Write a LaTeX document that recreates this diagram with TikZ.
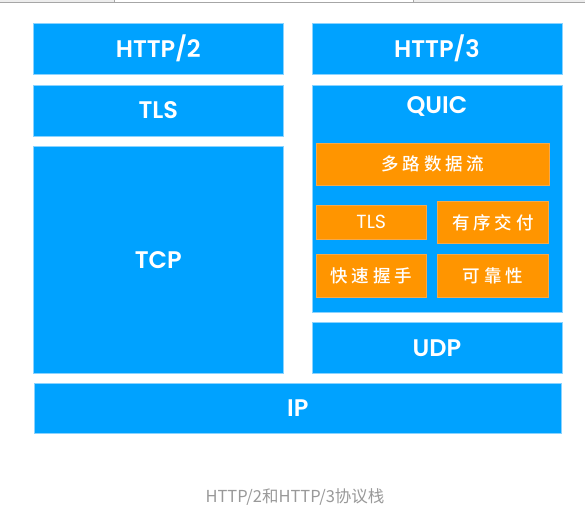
\documentclass[tikz,border=0pt]{standalone}
\usepackage{fontspec}
\setmainfont{Poppins}[BoldFont={Poppins SemiBold}]
\newfontfamily\cjk{Noto Sans CJK SC}[LetterSpace=22, BoldFont={Noto Sans CJK SC Medium}]
\newfontfamily\capfont{Noto Sans CJK SC}
\usetikzlibrary{positioning}
\definecolor{capa}{HTML}{00A2FF}
\definecolor{capaborde}{HTML}{8AD3FF}
\definecolor{func}{HTML}{FF9500}
\definecolor{funcborde}{HTML}{F5A84A}
\definecolor{pie}{HTML}{999999}
\begin{document}
\begin{tikzpicture}[x=1pt,y=-1pt]
		% formatos
		\tikzstyle{layer} = [draw=capaborde, fill=capa, line width=0.6pt, inner sep=0pt, minimum width=250pt, minimum height=51pt, text=white, font=\bfseries\fontsize{24}{26}\selectfont]
		\tikzstyle{feat} = [draw=funcborde, fill=func, line width=0.6pt, inner sep=0pt, anchor=north west, minimum width=110pt, minimum height=43pt, text=white, font=\cjk\bfseries\fontsize{17.5}{20}\selectfont]
		\tikzstyle{caption} = [text=pie, font=\capfont\fontsize{16.5}{20}\selectfont]
		\useasboundingbox (0,0) rectangle (585,515);
		% borde de arriba
		\fill [black!7] (0,0) rectangle (114,2);
		\fill [black!7] (413,0) rectangle (585,2);
		\draw [black!35, line width=0.8pt] (0,2) -- (585,2);
		\draw [black!35, line width=0.8pt] (114,0) -- (114,2);
		\draw [black!35, line width=0.8pt] (413,0) -- (413,2);
		% capas
		\node [layer, anchor=north west] (http2) at (33,23) {HTTP/2};
		\node [layer] (http3) [right=28pt of http2] {HTTP/3};
		\node [layer] (tls) [below=10pt of http2] {TLS};
		\node [layer, minimum height=227pt] (tcp) [below=10pt of tls] {TCP};
		\node [layer, minimum height=227pt] (quic) [below=10pt of http3] {};
		\node [text=white, font=\bfseries\fontsize{24}{26}\selectfont] (quictxt) at ([yshift=-22pt]quic.north) {QUIC};
		\node [layer] (udp) [below=10pt of quic] {UDP};
		\node [layer, anchor=north west, minimum width=527pt, minimum height=50pt] (ip) at (34,383) {IP};
		% funciones de QUIC
		\node [feat, minimum width=233pt, minimum height=42pt] (mux) at (316,143) {多路数据流};
		\node [feat, minimum height=34pt, font=\fontsize{19}{20}\selectfont] (qtls) at (316,205) {TLS};
		\node [feat, minimum width=111pt, minimum height=42pt] (orden) at (437,201) {有序交付};
		\node [feat] (rapido) at (316,254) {快速握手};
		\node [feat, minimum width=111pt] (fiable) at (437,254) {可靠性};
		% pie
		\node [caption] (pie) at (295,497) {HTTP/2和HTTP/3协议栈};
	\end{tikzpicture}
\end{document}
